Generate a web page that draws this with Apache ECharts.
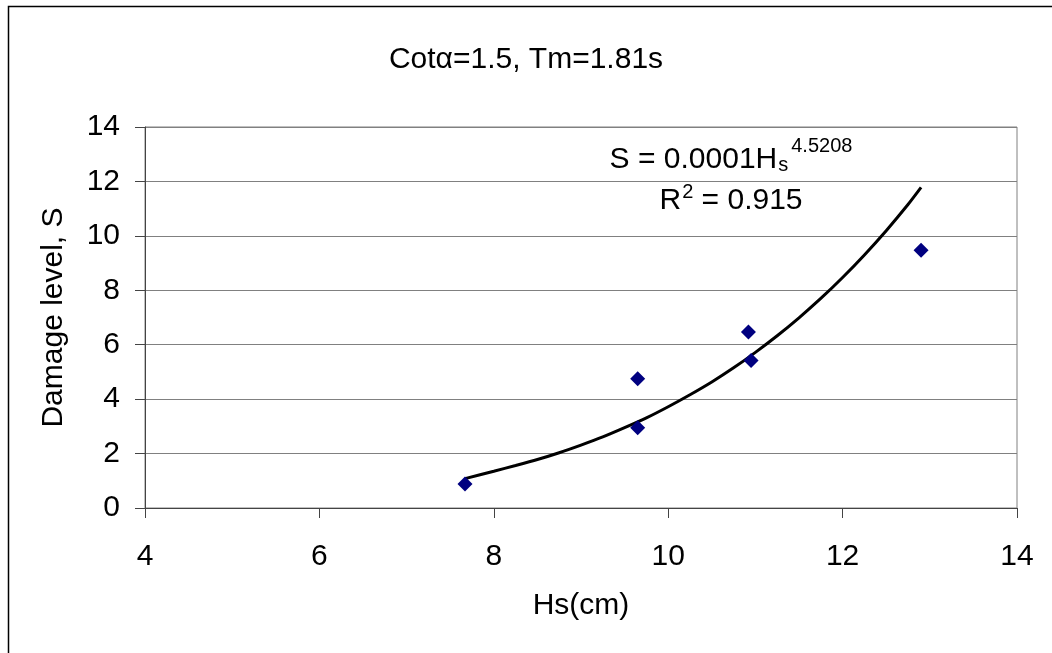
<!DOCTYPE html>
<html><head><meta charset="utf-8">
<script src="https://cdn.jsdelivr.net/npm/echarts@6/dist/echarts.min.js"></script>
<style>html,body{margin:0;padding:0;background:#fff}#c{width:1052px;height:653px}</style>
</head><body><div id="c"></div>
<script>
const hsObserved = [7.67, 9.65, 9.65, 10.92, 10.95, 12.90];
const damageObserved = [0.88, 4.75, 2.95, 6.47, 5.42, 9.47];
// power trendline, values
const trendHs = [7.67, 8.0, 8.25, 8.5, 8.75, 9.0, 9.25, 9.5, 9.75, 10.0, 10.25, 10.5, 10.75, 11.0, 11.25, 11.5, 11.75, 12.0, 12.25, 12.5, 12.75, 12.9];
const trendS = [1.08, 1.35, 1.56, 1.78, 2.03, 2.31, 2.61, 2.95, 3.31, 3.72, 4.16, 4.63, 5.15, 5.72, 6.33, 6.99, 7.70, 8.47, 9.30, 10.19, 11.15, 11.78];
// axis ranges / tick labels
const xMin = 4, xMax = 14, xStep = 2;
const yMin = 0, yMax = 14, yStep = 2;
const titleText = 'Cotα=1.5, Tm=1.81s';
const xName = 'Hs(cm)';
const yName = 'Damage level, S';
const eqMain = 'S = 0.0001H', eqSub = 's', eqSup = '4.5208';
const r2Label = 'R', r2Sup = '2', r2Value = ' = 0.915';

const FF = '"Liberation Sans", Arial, Helvetica, sans-serif';
const FS = 30;
const chart = echarts.init(document.getElementById('c'), null, {renderer: 'canvas'});
chart.setOption({
  backgroundColor: '#fff',
  animation: false,
  title: {
    text: titleText, left: 'center', top: 40,
    textStyle: {fontFamily: FF, fontSize: FS, fontWeight: 'normal', color: '#000'}
  },
  grid: {left: 145, right: 35, top: 127, bottom: 145, show: true, borderColor: '#808080', borderWidth: 1, backgroundColor: 'transparent'},
  xAxis: {
    type: 'value', min: xMin, max: xMax, interval: xStep,
    name: xName, nameLocation: 'middle', nameGap: 83,
    nameTextStyle: {fontFamily: FF, fontSize: FS, color: '#000'},
    axisLine: {show: true, onZero: false, lineStyle: {color: '#444', width: 1}},
    axisTick: {show: true, length: 10, inside: false, lineStyle: {color: '#444'}},
    axisLabel: {fontFamily: FF, fontSize: FS, color: '#000', margin: 34},
    splitLine: {show: false}
  },
  yAxis: {
    type: 'value', min: yMin, max: yMax, interval: yStep,
    name: yName, nameLocation: 'middle', nameGap: 76, nameRotate: 90,
    nameTextStyle: {fontFamily: FF, fontSize: FS, color: '#000'},
    axisLine: {show: true, lineStyle: {color: '#444', width: 1}},
    axisTick: {show: true, length: 10, inside: false, lineStyle: {color: '#444'}},
    axisLabel: {fontFamily: FF, fontSize: FS, color: '#000', margin: 25},
    splitLine: {show: true, lineStyle: {color: '#808080', width: 1}}
  },
  series: [
    {
      type: 'line', data: trendHs.map((x, i) => [x, trendS[i]]),
      showSymbol: false, smooth: 0.2, z: 2,
      lineStyle: {color: '#000', width: 3}
    },
    {
      type: 'scatter', data: hsObserved.map((x, i) => [x, damageObserved[i]]),
      symbol: 'diamond', symbolSize: 15, z: 3,
      itemStyle: {color: '#000080', opacity: 1}
    }
  ],
  graphic: [
    {
      type: 'text', x: 731, y: 136, z: 10,
      style: {
        text: '{m|' + eqMain + '}{sub|' + eqSub + '}{sup|' + eqSup + '}',
        align: 'center', verticalAlign: 'top',
        rich: {
          m: {fontFamily: FF, fontSize: FS, fill: '#000', verticalAlign: 'bottom'},
          sub: {fontFamily: FF, fontSize: 20, fill: '#000', verticalAlign: 'bottom', padding: [0, 0, 0, 1]},
          sup: {fontFamily: FF, fontSize: 20, fill: '#000', verticalAlign: 'top', padding: [0, 0, 19, 3]}
        }
      }
    },
    {
      type: 'text', x: 731, y: 182, z: 10,
      style: {
        text: '{m|' + r2Label + '}{sup|' + r2Sup + '}{m|' + r2Value + '}',
        align: 'center', verticalAlign: 'top',
        rich: {
          m: {fontFamily: FF, fontSize: FS, fill: '#000', verticalAlign: 'bottom'},
          sup: {fontFamily: FF, fontSize: 20, fill: '#000', verticalAlign: 'top', padding: [0, 0, 14, 1]}
        }
      }
    },
    {
      type: 'rect', shape: {x: 8.5, y: 6.5, width: 1200, height: 800}, z: -1,
      style: {fill: 'none', stroke: '#000', lineWidth: 1.5}
    }
  ]
});
</script>
</body></html>
